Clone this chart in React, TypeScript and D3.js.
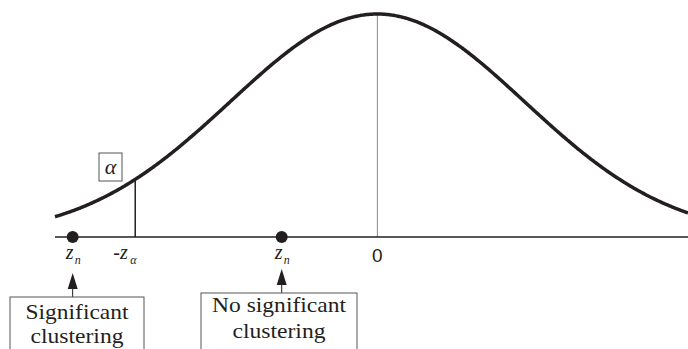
import React, { useEffect, useRef } from "react";
import * as d3 from "d3";

// Standard normal density drawn over this z range
const zRange: [number, number] = [-2.19, 2.11];
const zAlpha = 1.645;
// Observed z-scores of the two example cases
const zScores = [-2.07, -0.65];
const tickZero = [0];
const boxLabels = [["Significant", "clustering"], ["No significant", "clustering"]];

const W = 688;
const H = 349;

const pdf = (z: number) => Math.exp(-(z * z) / 2) / Math.sqrt(2 * Math.PI);

const SERIF = "Liberation Serif";
const SANS = "Liberation Sans";

export default function App() {
  const ref = useRef<SVGSVGElement>(null);

  const x = d3.scaleLinear().domain(zRange).range([55, 688]);
  const y = d3.scaleLinear().domain([0, pdf(0)]).range([237, 14]);
  const samples = d3.range(zRange[0], zRange[1] + 0.001, 0.01);
  const line = d3
    .line<number>()
    .x((z) => x(z))
    .y((z) => y(pdf(z)))
    .curve(d3.curveBasis);

  const ink = "#231f20";
  const axisY = y(0);

  const boxes = [
    { cx: x(zScores[0]), left: 10, right: 144, top: 297, tip: 273, base: [319, 343], len: [103, 93] },
    { cx: x(zScores[1]), left: 201, right: 357, top: 293, tip: 269, base: [312, 338], len: [134, 93] },
  ];

  // apply typefaces once the text nodes exist
  useEffect(() => {
    const svg = d3.select(ref.current);
    svg.selectAll("text.serif").style("font-family", SERIF, "important");
    svg.selectAll("text.sans").style("font-family", SANS, "important");
  }, []);

  return (
    <svg ref={ref} width={W} height={H} style={{ position: "absolute", left: 0, top: 0 }}>
      <rect width={W} height={H} fill="#fff" />
      {/* centre line at z = 0 */}
      {tickZero.map((t) => (
        <line key={t} x1={x(t)} x2={x(t)} y1={y(pdf(t))} y2={axisY} stroke="#888" strokeWidth={1} />
      ))}
      {/* baseline */}
      <line x1={x(zRange[0])} x2={W} y1={axisY} y2={axisY} stroke={ink} strokeWidth={1.5} />
      {/* critical value */}
      <line x1={x(-zAlpha)} x2={x(-zAlpha)} y1={y(pdf(-zAlpha))} y2={axisY} stroke={ink} strokeWidth={1.5} />
      {/* density curve */}
      <path d={line(samples) ?? ""} fill="none" stroke={ink} strokeWidth={3.5} />

      {/* alpha tag */}
      <rect x={99} y={153} width={23} height={28} fill="#fff" stroke="#555" strokeWidth={1} />
      <text className="serif" x={110.5} y={174} textAnchor="middle" fontFamily={SERIF} fontStyle="italic" fontSize={22} fill={ink}>
        α
      </text>

      {/* observed points */}
      {zScores.map((z) => (
        <g key={z}>
          <circle cx={x(z)} cy={axisY} r={6} fill={ink} />
          <text className="serif" x={x(z) - 7} y={259} fontFamily={SERIF} fontStyle="italic" fontSize={20} fill={ink}>
            z
          </text>
          <text className="serif" x={x(z) + 2} y={264} fontFamily={SERIF} fontStyle="italic" fontSize={12} fill={ink}>
            n
          </text>
        </g>
      ))}

      {/* -z_alpha label */}
      <text className="serif" x={x(-zAlpha) - 22} y={259} fontFamily={SERIF} fontStyle="italic" fontSize={20} fill={ink}>
        -z
      </text>
      <text className="serif" x={x(-zAlpha) - 5} y={264} fontFamily={SERIF} fontStyle="italic" fontSize={12} fill={ink}>
        α
      </text>

      {/* zero tick label */}
      {tickZero.map((t) => (
        <text className="sans" key={t} x={x(t)} y={262} textAnchor="middle" fontFamily={SANS} fontSize={19} fill={ink}>
          {t}
        </text>
      ))}

      {/* annotation boxes with arrows */}
      {boxes.map((b, i) => (
        <g key={i}>
          <line x1={b.cx} x2={b.cx} y1={b.tip + 10} y2={b.top} stroke={ink} strokeWidth={1} />
          <path d={`M${b.cx},${b.tip} L${b.cx - 5},${b.tip + 16} L${b.cx + 5},${b.tip + 16} Z`} fill={ink} />
          <rect x={b.left} y={b.top} width={b.right - b.left} height={H + 10 - b.top} fill="#fff" stroke="#555" strokeWidth={1} />
          {boxLabels[i].map((s, j) => (
            <text
              className="serif"
              key={j}
              x={(b.left + b.right) / 2}
              y={b.base[j]}
              textAnchor="middle"
              textLength={b.len[j]}
              lengthAdjust="spacingAndGlyphs"
              fontFamily={SERIF}
              fontSize={22}
              fill={ink}
            >
              {s}
            </text>
          ))}
        </g>
      ))}
    </svg>
  );
}
